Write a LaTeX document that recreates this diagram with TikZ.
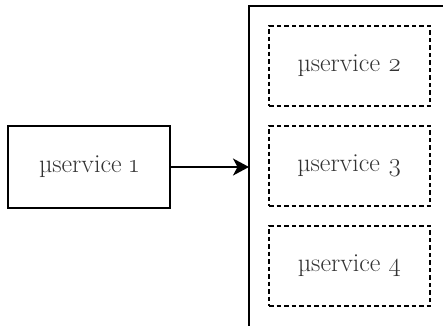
\documentclass[tikz,border=0pt]{standalone}
\usepackage{fontspec}
\setmainfont{Latin Modern Roman}[Numbers=OldStyle]
\usetikzlibrary{arrows.meta}

\def\svcfont{\fontsize{26}{31}\selectfont}

\begin{document}
\begin{tikzpicture}[x=1pt, y=-1pt,
    svc/.style={draw, line width=1.7pt, minimum width=162pt, minimum height=82pt, inner sep=0pt, font=\svcfont, text=black!80},
    inner/.style={svc, minimum width=161pt, minimum height=80pt, dash pattern=on 4.5pt off 3pt}]
      \useasboundingbox (0,0) rectangle (443,325);
      \clip (0,0) rectangle (443,325);
      \node[svc] (s1) at (89, 167) {µservice 1};
      \draw[line width=1.7pt] (249, 340) coordinate (cb) -- (249, 6) coordinate (ct) -- (460, 6);
      \node[inner] (s2) at (349.5, 66) {µservice 2};
      \node[inner] (s3) at (349.5, 166) {µservice 3};
      \node[inner] (s4) at (349.5, 266) {µservice 4};
      \draw[line width=1.7pt, -{Stealth[length=16pt, width=17pt, inset=4.5pt]}] (s1.east) -- (s1.east -| ct);
    \end{tikzpicture}
\end{document}
